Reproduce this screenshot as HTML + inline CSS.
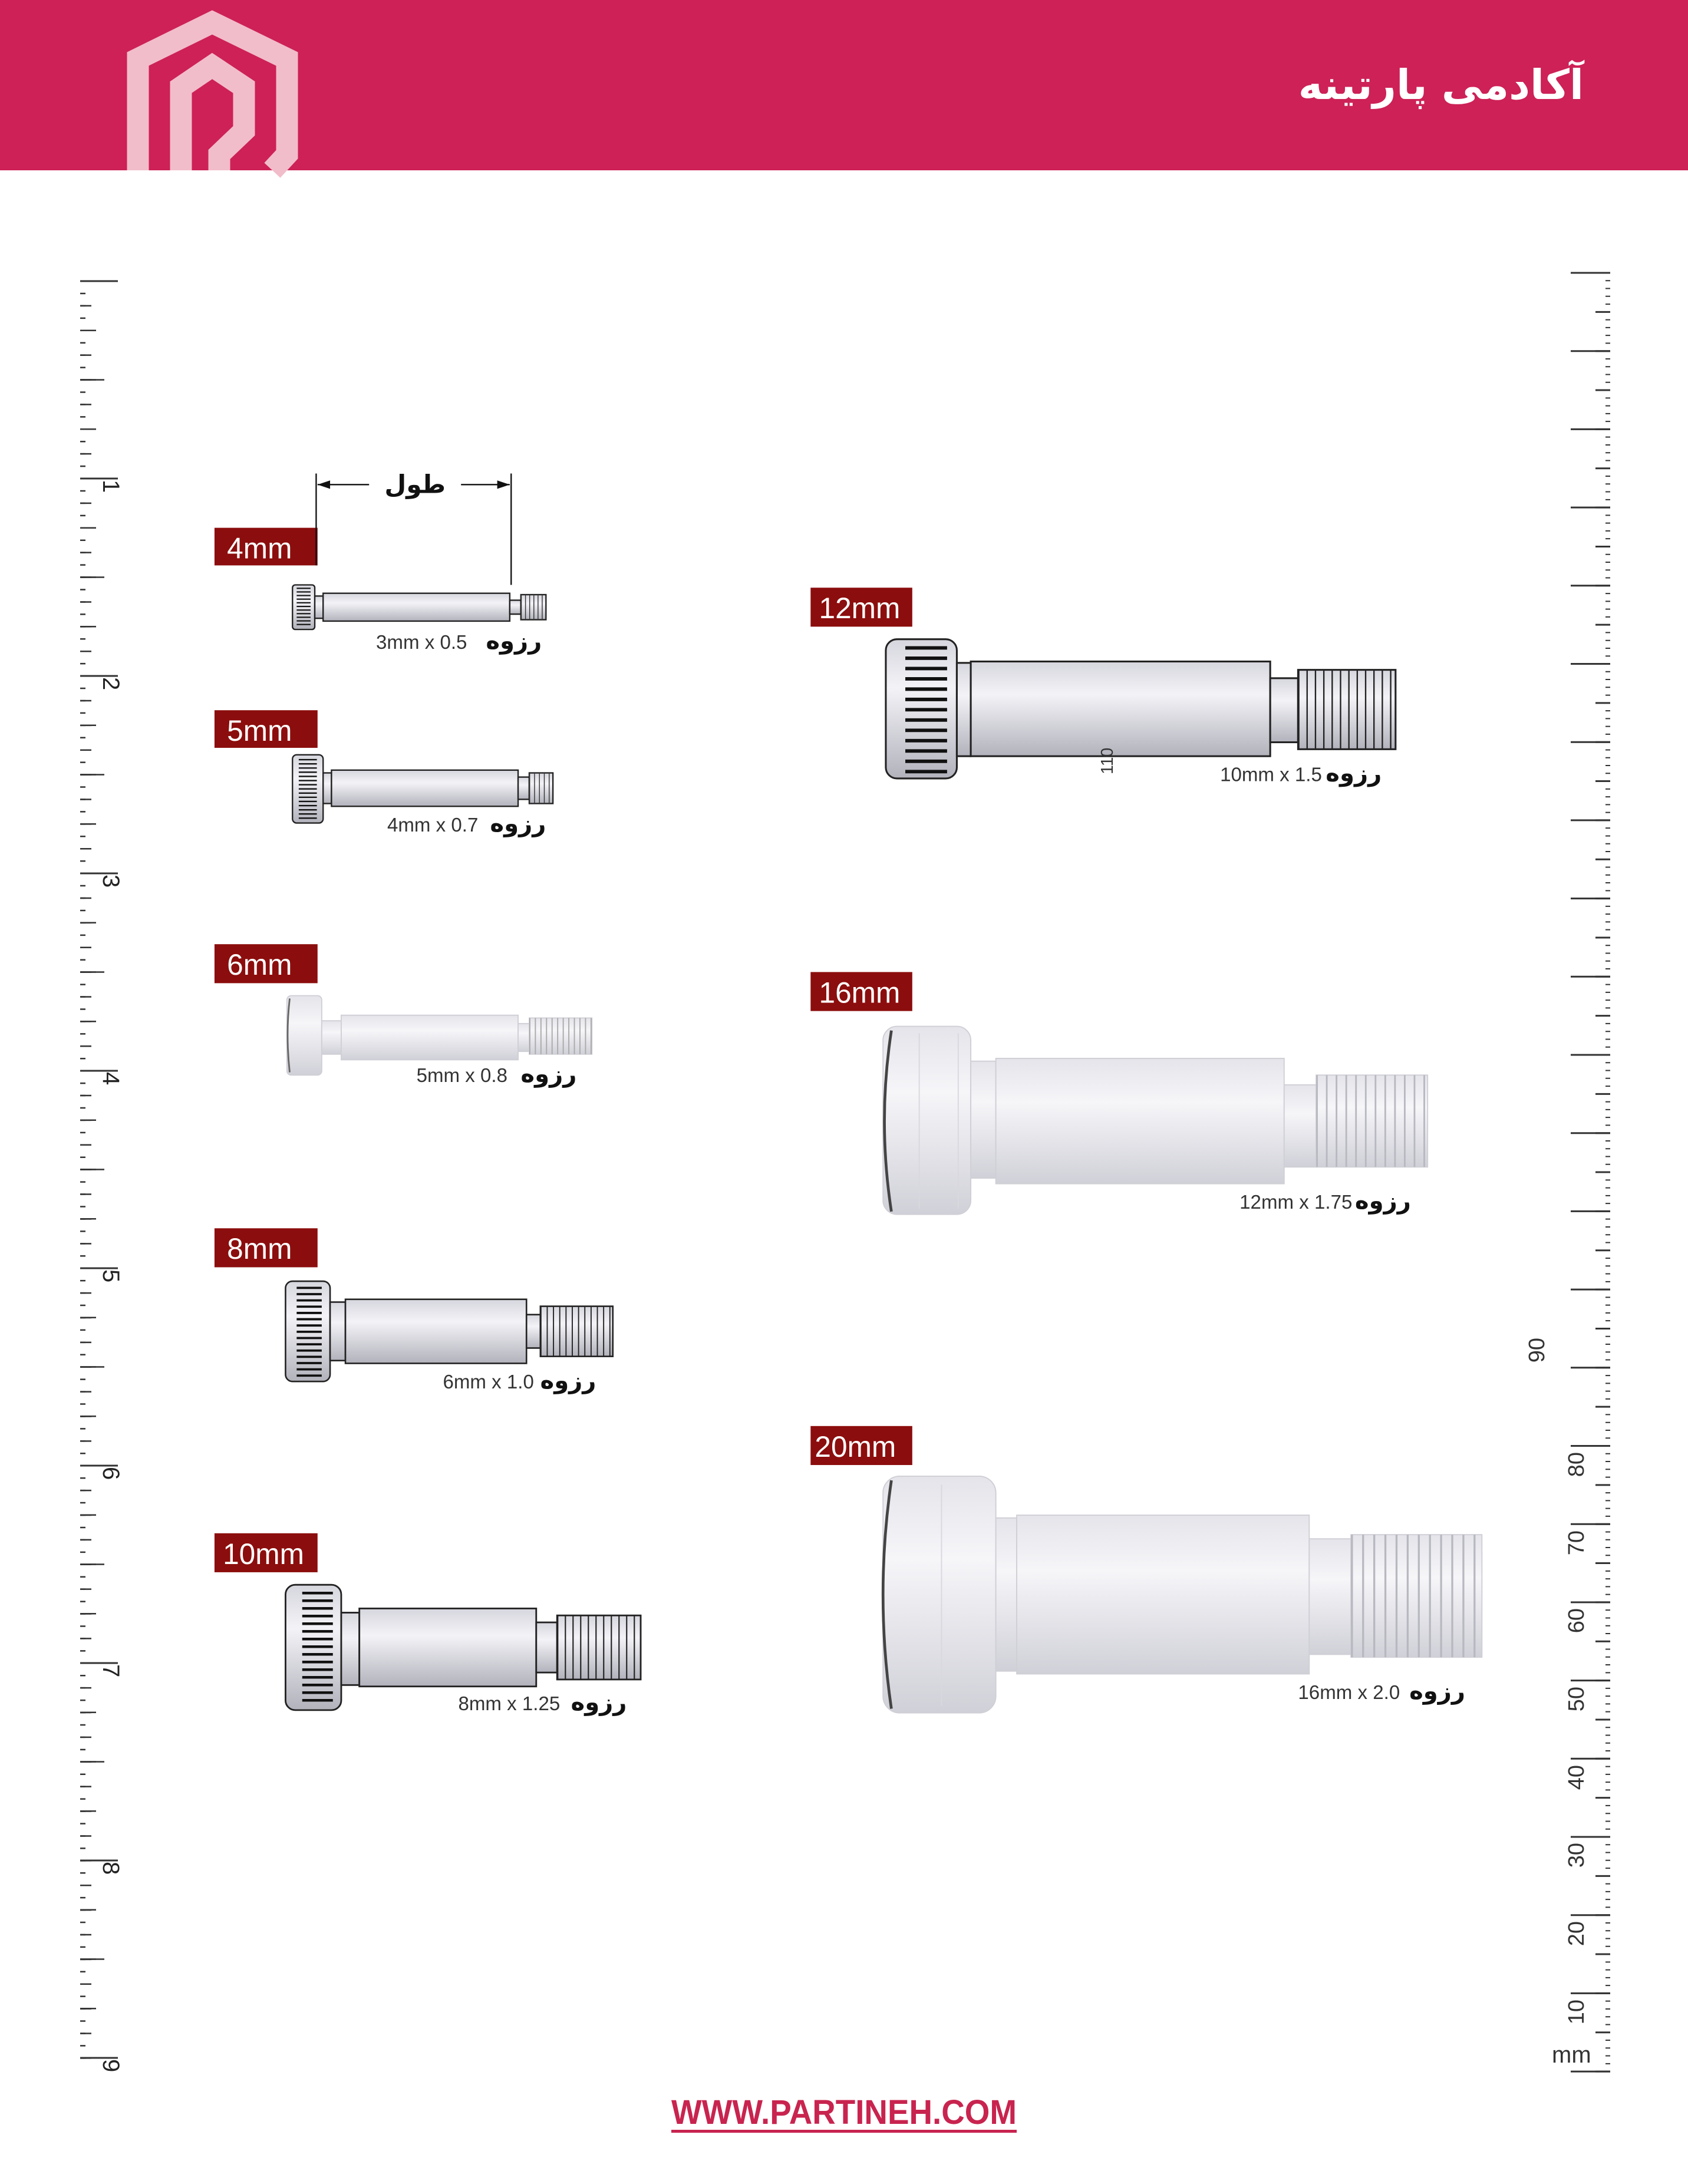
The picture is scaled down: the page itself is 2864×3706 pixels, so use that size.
<!DOCTYPE html>
<html><head><meta charset="utf-8"><style>
html,body{margin:0;padding:0;background:#fff}
svg{display:block}
</style></head><body>
<svg width="2864" height="3706" viewBox="0 0 2864 3706" xmlns="http://www.w3.org/2000/svg">
<defs>
<linearGradient id="g" x1="0" y1="0" x2="0" y2="1">
<stop offset="0" stop-color="#d6d6de"/><stop offset="0.35" stop-color="#f3f3f7"/><stop offset="1" stop-color="#b2b2bc"/>
</linearGradient>
<linearGradient id="gl" x1="0" y1="0" x2="0" y2="1">
<stop offset="0" stop-color="#e4e4ea"/><stop offset="0.35" stop-color="#f6f6f9"/><stop offset="1" stop-color="#d0d0d8"/>
</linearGradient>
</defs>
<rect width="2864" height="3706" fill="#fff"/>
<!-- header -->
<rect x="0" y="0" width="2864" height="289" fill="#CD2157"/>
<g fill="none" stroke="#F1BDCB" stroke-width="37" stroke-linejoin="miter">
<path d="M234,289 L234,100 L360,38 L487,100 L487,262 L462,289"/>
<path d="M307,289 L307,148 L360,112 L414,148 L414,222 L372,262 L372,289"/>
</g>
<text x="2687" y="168" text-anchor="end" font-family="DejaVu Sans, sans-serif" font-weight="bold" font-size="70" fill="#fff">آکادمی پارتینه</text>

<!-- left ruler -->
<g stroke="#333">
<line x1="140.5" y1="475.75" x2="140.5" y2="3495" stroke-width="9" stroke-dasharray="2.5 18.44"/>
<line x1="145.5" y1="475.75" x2="145.5" y2="3495" stroke-width="19" stroke-dasharray="2.5 39.38"/>
<line x1="149.5" y1="475.75" x2="149.5" y2="3495" stroke-width="27" stroke-dasharray="2.5 81.25"/>
<line x1="156.5" y1="475.75" x2="156.5" y2="3495" stroke-width="41" stroke-dasharray="2.5 165"/>
<line x1="168" y1="475.5" x2="168" y2="3495" stroke-width="64" stroke-dasharray="3 332"/>
</g>
<g font-family="Liberation Sans, sans-serif" font-size="40" fill="#222">
<text transform="translate(175,814) rotate(90)">1</text>
<text transform="translate(175,1149) rotate(90)">2</text>
<text transform="translate(175,1484) rotate(90)">3</text>
<text transform="translate(175,1819) rotate(90)">4</text>
<text transform="translate(175,2154) rotate(90)">5</text>
<text transform="translate(175,2489) rotate(90)">6</text>
<text transform="translate(175,2824) rotate(90)">7</text>
<text transform="translate(175,3159) rotate(90)">8</text>
<text transform="translate(175,3494) rotate(90)">9</text>
</g>

<!-- right ruler -->
<g stroke="#333">
<line x1="2728" y1="462" x2="2728" y2="3517" stroke-width="8" stroke-dasharray="2 11.27"/>
<line x1="2719.5" y1="461.5" x2="2719.5" y2="3517" stroke-width="25" stroke-dasharray="3 63.35"/>
<line x1="2698.5" y1="461.5" x2="2698.5" y2="3517" stroke-width="67" stroke-dasharray="3 129.7"/>
</g>
<g font-family="Liberation Sans, sans-serif" font-size="38" fill="#333" text-anchor="end">
<text transform="translate(2687,3393) rotate(-90)">10</text>
<text transform="translate(2687,3260) rotate(-90)">20</text>
<text transform="translate(2687,3127) rotate(-90)">30</text>
<text transform="translate(2687,2995) rotate(-90)">40</text>
<text transform="translate(2687,2862) rotate(-90)">50</text>
<text transform="translate(2687,2729) rotate(-90)">60</text>
<text transform="translate(2687,2597) rotate(-90)">70</text>
<text transform="translate(2687,2464) rotate(-90)">80</text>
<text transform="translate(2620,2270) rotate(-90)">90</text>
</g>
<text x="2633" y="3500" font-family="Liberation Sans, sans-serif" font-size="40" fill="#333">mm</text>

<!-- footer -->
<text x="1139" y="3604" font-family="Liberation Sans, sans-serif" font-weight="bold" font-size="58" fill="#C8244F" textLength="586" lengthAdjust="spacingAndGlyphs">WWW.PARTINEH.COM</text>
<rect x="1139" y="3614" width="586" height="5" fill="#C8244F"/>

<g transform="scale(2.3631)">
<!-- labels -->
<g fill="#8C0D0D">
<rect x="154" y="379" width="74" height="27"/>
<rect x="154" y="510" width="74" height="27"/>
<rect x="154" y="678" width="74" height="28"/>
<rect x="154" y="882" width="74" height="28"/>
<rect x="154" y="1101" width="74" height="28"/>
<rect x="582" y="422" width="73" height="28"/>
<rect x="582" y="698" width="73" height="28"/>
<rect x="582" y="1024" width="73" height="28"/>
</g>
<g fill="#fff" font-family="Liberation Sans, sans-serif" font-size="21">
<text x="163" y="401">4mm</text>
<text x="163" y="532">5mm</text>
<text x="163" y="700">6mm</text>
<text x="163" y="904">8mm</text>
<text x="160" y="1123">10mm</text>
<text x="588" y="444">12mm</text>
<text x="588" y="720">16mm</text>
<text x="585" y="1046">20mm</text>
</g>

<!-- dimension -->
<g stroke="#111" stroke-width="1" fill="#111">
<line x1="227" y1="340" x2="227" y2="406"/>
<line x1="367" y1="340" x2="367" y2="420"/>
<line x1="228" y1="348" x2="265" y2="348"/>
<line x1="331" y1="348" x2="366" y2="348"/>
<path d="M228,348 l9,-3 v6z" stroke="none"/>
<path d="M366,348 l-9,-3 v6z" stroke="none"/>
</g>
<text x="298" y="354" text-anchor="middle" font-family="DejaVu Sans, sans-serif" font-weight="bold" font-size="18" fill="#111">طول</text>

<!-- screw 4mm -->
<g stroke="#222" stroke-width="1">
<rect x="210" y="420" width="16" height="32" rx="2" fill="url(#g)"/>
<line x1="218" y1="422" x2="218" y2="450" stroke="#111" stroke-width="10" stroke-dasharray="0.9 1.7"/>
<rect x="226" y="428" width="6" height="16" fill="url(#g)"/>
<rect x="232" y="426" width="134" height="20" fill="url(#g)"/>
<rect x="366" y="431" width="8" height="10" fill="url(#g)"/>
<rect x="374" y="427" width="18" height="18" fill="url(#g)"/>
<line x1="374" y1="436" x2="392" y2="436" stroke="#333" stroke-width="18" stroke-dasharray="0.6 2.4"/>
</g>
<!-- screw 5mm -->
<g stroke="#222" stroke-width="1">
<rect x="210" y="542" width="22" height="49" rx="3" fill="url(#g)"/>
<line x1="221" y1="545" x2="221" y2="589" stroke="#111" stroke-width="13" stroke-dasharray="1 2"/>
<rect x="232" y="555" width="6" height="22" fill="url(#g)"/>
<rect x="238" y="553" width="134" height="26" fill="url(#g)"/>
<rect x="372" y="558" width="8" height="16" fill="url(#g)"/>
<rect x="380" y="555" width="17" height="22" fill="url(#g)"/>
<line x1="380" y1="566" x2="397" y2="566" stroke="#333" stroke-width="22" stroke-dasharray="0.6 2.9"/>
</g>
<!-- screw 6mm light -->
<g stroke="#cfcfd6" stroke-width="0.8">
<rect x="206" y="715" width="25" height="57" rx="3" fill="url(#gl)"/>
<path d="M208,717 Q205,743 208,770" fill="none" stroke="#666" stroke-width="1.2"/>
<rect x="231" y="733" width="14" height="24" fill="url(#gl)"/>
<rect x="245" y="729" width="127" height="32" fill="url(#gl)"/>
<rect x="372" y="735" width="8" height="20" fill="url(#gl)"/>
<rect x="380" y="731" width="45" height="26" fill="url(#gl)"/>
<line x1="380" y1="744" x2="425" y2="744" stroke="#aaa" stroke-width="26" stroke-dasharray="0.8 3.2"/>
</g>
<!-- screw 8mm -->
<g stroke="#222" stroke-width="1.1">
<rect x="205" y="920" width="32" height="72" rx="5" fill="url(#g)"/>
<line x1="222" y1="924" x2="222" y2="989" stroke="#111" stroke-width="18" stroke-dasharray="1.6 2.9"/>
<rect x="237" y="935" width="11" height="42" fill="url(#g)"/>
<rect x="248" y="933" width="130" height="46" fill="url(#g)"/>
<rect x="378" y="944" width="10" height="24" fill="url(#g)"/>
<rect x="388" y="938" width="52" height="36" fill="url(#g)"/>
<line x1="388" y1="956" x2="440" y2="956" stroke="#222" stroke-width="36" stroke-dasharray="0.8 3.7"/>
</g>
<!-- screw 10mm -->
<g stroke="#222" stroke-width="1.2">
<rect x="205" y="1138" width="40" height="90" rx="7" fill="url(#g)"/>
<line x1="228" y1="1143" x2="228" y2="1224" stroke="#111" stroke-width="22" stroke-dasharray="1.9 3.6"/>
<rect x="245" y="1158" width="13" height="52" fill="url(#g)"/>
<rect x="258" y="1155" width="127" height="56" fill="url(#g)"/>
<rect x="385" y="1165" width="15" height="36" fill="url(#g)"/>
<rect x="400" y="1160" width="60" height="46" fill="url(#g)"/>
<line x1="400" y1="1183" x2="460" y2="1183" stroke="#222" stroke-width="46" stroke-dasharray="0.9 4.6"/>
</g>
<!-- screw 12mm -->
<g stroke="#222" stroke-width="1.3">
<rect x="636" y="459" width="51" height="100" rx="8" fill="url(#g)"/>
<line x1="665" y1="464" x2="665" y2="556" stroke="#111" stroke-width="30" stroke-dasharray="2.5 4.9"/>
<rect x="687" y="476" width="10" height="67" fill="url(#g)"/>
<rect x="697" y="475" width="215" height="68" fill="url(#g)"/>
<rect x="912" y="487" width="20" height="46" fill="url(#g)"/>
<rect x="932" y="481" width="70" height="57" fill="url(#g)"/>
<line x1="932" y1="509.5" x2="1002" y2="509.5" stroke="#222" stroke-width="57" stroke-dasharray="1 5"/>
</g>
<text transform="translate(799,556) rotate(-90)" font-family="Liberation Sans, sans-serif" font-size="12" fill="#333">110</text>
<!-- screw 16mm light -->
<g stroke="#cfcfd6" stroke-width="0.8">
<rect x="634" y="737" width="63" height="135" rx="10" fill="url(#gl)"/>
<line x1="660" y1="742" x2="660" y2="868" stroke="#d8d8de"/>
<line x1="688" y1="742" x2="688" y2="868" stroke="#d8d8de"/>
<path d="M640,740 Q630,805 640,870" fill="none" stroke="#444" stroke-width="2"/>
<rect x="697" y="762" width="18" height="84" fill="url(#gl)"/>
<rect x="715" y="760" width="207" height="90" fill="url(#gl)"/>
<rect x="922" y="779" width="23" height="59" fill="url(#gl)"/>
<rect x="945" y="772" width="80" height="66" fill="url(#gl)"/>
<line x1="945" y1="805" x2="1025" y2="805" stroke="#b8b8c0" stroke-width="66" stroke-dasharray="1.2 5.8"/>
</g>
<!-- screw 20mm light -->
<g stroke="#cfcfd6" stroke-width="0.8">
<rect x="634" y="1060" width="81" height="170" rx="12" fill="url(#gl)"/>
<line x1="676" y1="1066" x2="676" y2="1225" stroke="#d8d8de"/>
<path d="M640,1063 Q628,1145 640,1227" fill="none" stroke="#444" stroke-width="2"/>
<rect x="715" y="1090" width="15" height="110" fill="url(#gl)"/>
<rect x="730" y="1088" width="210" height="114" fill="url(#gl)"/>
<rect x="940" y="1105" width="30" height="83" fill="url(#gl)"/>
<rect x="970" y="1102" width="94" height="88" fill="url(#gl)"/>
<line x1="970" y1="1146" x2="1064" y2="1146" stroke="#b8b8c0" stroke-width="88" stroke-dasharray="1.4 6.6"/>
</g>

<!-- thread texts -->
<g font-family="Liberation Sans, sans-serif" font-size="14" fill="#333">
<text x="270" y="466">3mm x 0.5</text>
<text x="278" y="597">4mm x 0.7</text>
<text x="299" y="777">5mm x 0.8</text>
<text x="318" y="997">6mm x 1.0</text>
<text x="329" y="1228">8mm x 1.25</text>
<text x="876" y="561">10mm x 1.5</text>
<text x="890" y="868">12mm x 1.75</text>
<text x="932" y="1220">16mm x 2.0</text>
</g>
<g font-family="DejaVu Sans, sans-serif" font-weight="bold" font-size="17" fill="#111" text-anchor="end">
<text x="389" y="466">رزوه</text>
<text x="392" y="597">رزوه</text>
<text x="414" y="777">رزوه</text>
<text x="428" y="997">رزوه</text>
<text x="450" y="1228">رزوه</text>
<text x="992" y="561">رزوه</text>
<text x="1013" y="868">رزوه</text>
<text x="1052" y="1220">رزوه</text>
</g>
</g>
</svg>
</body></html>
